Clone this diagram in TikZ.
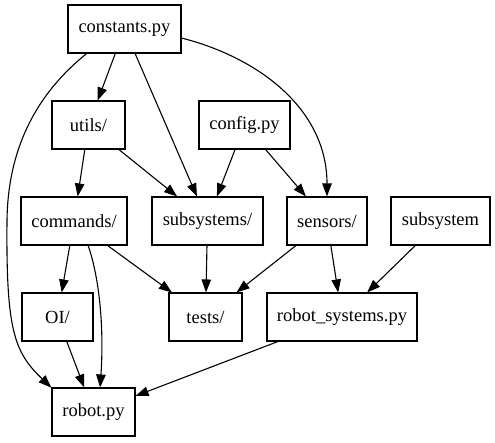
\documentclass[tikz,border=0pt]{standalone}
\usepackage{fontspec}
\setmainfont{Liberation Serif}
\usetikzlibrary{arrows.meta}
\begin{document}
\begin{tikzpicture}[x=1pt,y=-1pt,
  box/.style={draw, line width=1.1pt, minimum height=48pt, inner sep=0pt,
    font=\fontsize{18.5}{22}\selectfont\rmfamily},
  edge/.style={line width=1.1pt, -{Triangle[length=13pt,width=9.5pt]}}]
\useasboundingbox (0,0) rectangle (495,443);
\node[box, minimum width=113pt] (c)  at (124.5,29) {constants.py};
\node[box, minimum width=73pt]  (u)  at (88.5,125) {utils/};
\node[box, minimum width=91pt]  (cf) at (244.5,125) {config.py};
\node[box, minimum width=106pt] (co) at (74,221) {commands/};
\node[box, minimum width=111pt] (sb) at (207.5,221) {subsystems/};
\node[box, minimum width=80pt]  (se) at (327,221) {sensors/};
\node[box, minimum width=99pt]  (sy) at (440.5,221) {subsystem};
\node[box, minimum width=71pt]  (oi) at (57.5,317) {OI/};
\node[box, minimum width=73pt]  (t)  at (205.5,317) {tests/};
\node[box, minimum width=150pt] (rs) at (342,317) {robot\_systems.py};
\node[box, minimum width=83pt]  (r)  at (93.5,412) {robot.py};

\draw[edge] (c) -- (u);
\draw[edge] (c) -- (sb);
\draw[edge] (c.-9) .. controls (260,58) and (327,110) .. (se.north);
\draw[edge] (c.213) .. controls (35,95) and (8,150) .. (7,220)
            .. controls (6,330) and (14,352) .. (r.150);
\draw[edge] (u) -- (co);
\draw[edge] (u) -- (sb);
\draw[edge] (cf) -- (sb);
\draw[edge] (cf) -- (se);
\draw[edge] (co) -- (oi);
\draw[edge] (co) -- (t);
\draw[edge] (co.-60) .. controls (100,280) and (104,330) .. (r.75);
\draw[edge] (sb) -- (t);
\draw[edge] (se) -- (t);
\draw[edge] (se) -- (rs);
\draw[edge] (sy) -- (rs);
\draw[edge] (oi) -- (r);
\draw[edge] (rs) -- (r);
\end{tikzpicture}
\end{document}
